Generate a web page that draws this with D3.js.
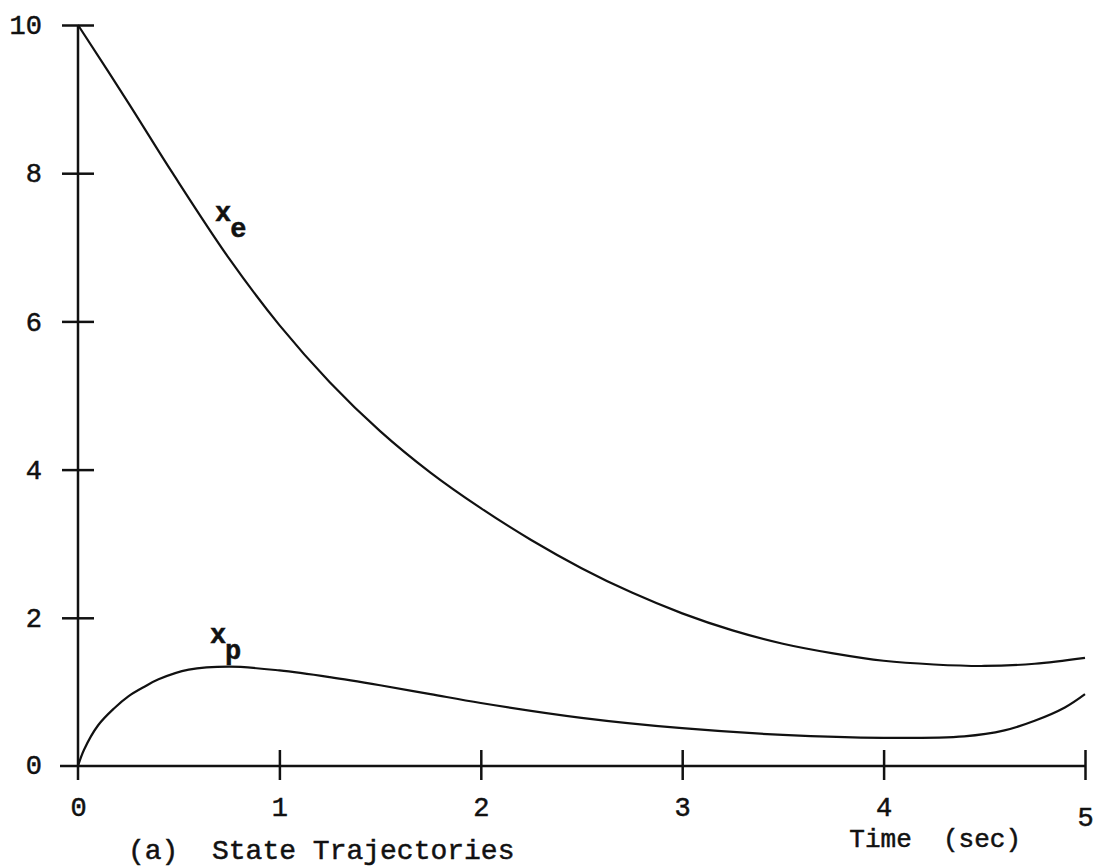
<!DOCTYPE html>
<html>
<head>
<meta charset="utf-8">
<script src="https://cdn.jsdelivr.net/npm/d3@7"></script>
<style>
  body { margin: 0; background: #fff; }
  svg { display: block; }
  text { font-family: "Liberation Mono", "DejaVu Sans Mono", monospace; fill: #111; stroke: #111; stroke-width: 0.5px; }
</style>
</head>
<body>
<div id="chart"></div>
<script>
// values
var xeTime = [0, 0.25, 0.47, 0.75, 1.0, 1.25, 1.5, 1.75, 2.0, 2.25, 2.5, 2.75, 3.0, 3.25, 3.5, 3.75, 4.0, 4.25, 4.5, 4.75, 5.0],
    xeValue = [10, 8.95, 8.0, 6.85, 5.95, 5.18, 4.52, 3.96, 3.48, 3.05, 2.67, 2.34, 2.06, 1.83, 1.65, 1.52, 1.42, 1.37, 1.35, 1.38, 1.46];

var xpTime = [0, 0.03, 0.1, 0.18, 0.25, 0.33, 0.4, 0.55, 0.75, 1.0, 1.25, 1.5, 1.75, 2.0, 2.5, 3.0, 3.5, 4.0, 4.4, 4.6, 4.75, 4.9, 5.0],
    xpValue = [0, 0.22, 0.55, 0.78, 0.94, 1.07, 1.17, 1.30, 1.34, 1.29, 1.2, 1.09, 0.97, 0.85, 0.65, 0.51, 0.42, 0.38, 0.40, 0.48, 0.61, 0.79, 0.97];

var xTicks = [0, 1, 2, 3, 4, 5],
    yTicks = [0, 2, 4, 6, 8, 10];

var curveLabels = [
  {name: 'x', sub: 'e', t: 0.68, v: 7.35},
  {name: 'x', sub: 'p', t: 0.655, v: 1.66}
];

var width = 1102, height = 867,
    margin = {top: 25, left: 78, right: 17, bottom: 101};

var svg = d3.select('#chart').append('svg')
    .attr('width', width)
    .attr('height', height);

var x = d3.scaleLinear().domain([0, 5]).range([margin.left, width - margin.right]);
var y = d3.scaleLinear().domain([0, 10]).range([height - margin.bottom, margin.top]);

// axes: ticks cross the axis line, like the typed original
var yAxis = svg.append('g')
    .attr('transform', `translate(${x(0)},0)`)
    .call(d3.axisLeft(y).tickValues(yTicks.slice(1)).tickFormat(d3.format('d')).tickSize(16));
yAxis.select('.domain').remove();
yAxis.selectAll('.tick line').attr('x1', 16).attr('stroke', '#111').attr('stroke-width', 2.5);
yAxis.selectAll('.tick text').attr('font-size', 27).attr('x', -36).attr('dy', '0.32em');

// the 0 label on the y axis sits by itself at the origin
svg.append('text')
    .attr('x', x(0) - 36)
    .attr('y', y(0))
    .attr('dy', '0.3em')
    .attr('text-anchor', 'end')
    .attr('font-size', 27)
    .text(yTicks[0]);

var xAxis = svg.append('g')
    .attr('transform', `translate(0,${y(0)})`)
    .call(d3.axisBottom(x).tickValues(xTicks).tickFormat(d3.format('d')).tickSize(14).tickPadding(16));
xAxis.select('.domain').remove();
xAxis.selectAll('.tick line').attr('y1', -16).attr('stroke', '#111').attr('stroke-width', 2.5);
xAxis.selectAll('.tick text').attr('font-size', 27).attr('dy', '0.75em');
xAxis.selectAll('.tick').filter(d => d === 5).select('text').attr('dy', '1.1em');
xAxis.selectAll('.tick').filter(d => d === 0).select('line').remove();

svg.append('line')
    .attr('x1', x(0)).attr('x2', x(0))
    .attr('y1', y(10)).attr('y2', y(0) + 14)
    .attr('stroke', '#111').attr('stroke-width', 2.5);

svg.append('line')
    .attr('x1', x(0) - 18).attr('x2', x(5))
    .attr('y1', y(0)).attr('y2', y(0))
    .attr('stroke', '#111').attr('stroke-width', 2.5);

// curves
var line = d3.line()
    .curve(d3.curveCatmullRom.alpha(0.5))
    .x(d => x(d[0]))
    .y(d => y(d[1]));

svg.append('path')
    .datum(d3.zip(xeTime, xeValue))
    .attr('d', line)
    .attr('fill', 'none')
    .attr('stroke', '#111')
    .attr('stroke-width', 2.2);

svg.append('path')
    .datum(d3.zip(xpTime, xpValue))
    .attr('d', line)
    .attr('fill', 'none')
    .attr('stroke', '#111')
    .attr('stroke-width', 2.2);

// curve names with subscript
var lab = svg.selectAll('.curve-label')
    .data(curveLabels)
    .enter().append('text')
    .attr('class', 'curve-label')
    .attr('x', d => x(d.t))
    .attr('y', d => y(d.v))
    .attr('font-size', 27)
    .attr('font-weight', 'bold');
lab.append('tspan').text(d => d.name);
lab.append('tspan').attr('dx', -1).attr('dy', 16).text(d => d.sub);

// captions
svg.append('text')
    .attr('x', x(0) + 50)
    .attr('y', height - 8)
    .attr('font-size', 28)
    .style('white-space', 'pre')
    .text('(a)  State Trajectories');

svg.append('text')
    .attr('x', x(3.83))
    .attr('y', height - 20)
    .attr('font-size', 26)
    .style('white-space', 'pre')
    .text('Time  (sec)');
</script>
</body>
</html>
